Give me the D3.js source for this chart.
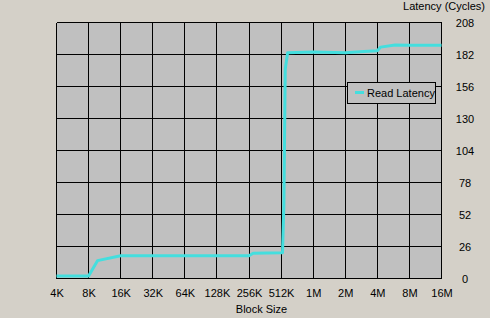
<!DOCTYPE html>
<html>
<head>
<meta charset="utf-8">
<script src="https://cdn.jsdelivr.net/npm/d3@7"></script>
<style>
  body { margin: 0; background: #d4d0c8; }
  text { font-family: "Liberation Sans", Arial, sans-serif; font-size: 11px; fill: #000; }
</style>
</head>
<body>
<div id="chart"></div>
<script>
// block sizes in KB and read latency in cycles
var blockKB = [4, 8, 9.7, 16, 32, 64, 128, 256, 280, 512, 528, 544, 560, 590, 1024, 2048, 3072, 4096, 4400, 6000, 8192, 16384];
var latency = [2, 2, 14.5, 18.5, 18.5, 18.5, 18.5, 18.5, 20.5, 21, 21, 60, 170, 183.5, 184, 183.5, 184.5, 185, 188, 189.8, 189.5, 189.5];

var xTickKB = [4, 8, 16, 32, 64, 128, 256, 512, 1024, 2048, 4096, 8192, 16384];
var xLabels = ["4K", "8K", "16K", "32K", "64K", "128K", "256K", "512K", "1M", "2M", "4M", "8M", "16M"];
var yTicks = [0, 26, 52, 78, 104, 130, 156, 182, 208];

var seriesName = "Read Latency";

createGraph();

function createGraph() {
    var W = 490, H = 318;
    var margin = {top: 22, right: 49, bottom: 40, left: 56},
        width = W - margin.left - margin.right,
        height = H - margin.top - margin.bottom;

    var x = d3.scaleLog().base(2).domain([4, 16384]).range([0.5, width + 0.5]);
    var y = d3.scaleLinear().domain([0, 208]).range([height + 0.5, 0.5]);

    var svg = d3.select("#chart").append("svg")
        .attr("width", W)
        .attr("height", H);

    var canvas = svg.append("g")
        .attr("transform", "translate(" + margin.left + "," + margin.top + ")");

    // plot background
    canvas.append("rect")
        .attr("x", 0.5).attr("y", 0.5)
        .attr("width", width).attr("height", height)
        .attr("fill", "#c0c0c0");

    // grid lines
    canvas.selectAll(".vgrid").data(xTickKB).enter().append("line")
        .attr("x1", function(d) { return x(d); })
        .attr("x2", function(d) { return x(d); })
        .attr("y1", 0.5).attr("y2", height + 0.5)
        .attr("stroke", "#000").attr("shape-rendering", "crispEdges");
    canvas.selectAll(".hgrid").data(yTicks).enter().append("line")
        .attr("y1", function(d) { return y(d); })
        .attr("y2", function(d) { return y(d); })
        .attr("x1", 0.5).attr("x2", width + 0.5)
        .attr("stroke", "#000").attr("shape-rendering", "crispEdges");

    // the series
    var pts = blockKB.map(function(d, i) { return {x: d, y: latency[i]}; });
    var valueline = d3.line()
        .x(function(d) { return x(d.x); })
        .y(function(d) { return y(d.y); });
    canvas.append("path")
        .datum(pts)
        .attr("d", valueline)
        .attr("fill", "none")
        .attr("stroke", "#44dede")
        .attr("stroke-width", 3)
        .attr("stroke-linejoin", "round");

    // x axis labels
    var xAxis = d3.axisBottom(x)
        .tickValues(xTickKB)
        .tickSize(0)
        .tickPadding(11)
        .tickFormat(function(d, i) { return xLabels[i]; });
    var gx = canvas.append("g")
        .attr("transform", "translate(0," + height + ")")
        .call(xAxis);
    gx.select(".domain").remove();
    gx.selectAll("text").attr("font-size", 11).attr("font-family", null).attr("fill", "#000");

    // y axis labels on the right
    var yAxis = d3.axisRight(y)
        .tickValues(yTicks)
        .tickSize(0)
        .tickPadding(0);
    var gy = canvas.append("g")
        .attr("transform", "translate(" + (width + 24) + ",0)")
        .call(yAxis);
    gy.select(".domain").remove();
    gy.selectAll("text").attr("text-anchor", "middle").attr("font-size", 11)
        .attr("font-family", null).attr("fill", "#000");

    canvas.append("text")
        .attr("x", width / 2 + 13)
        .attr("y", height + 35)
        .style("text-anchor", "middle")
        .text("Block Size");

    canvas.append("text")
        .attr("x", W - margin.left - 5)
        .attr("y", -12)
        .style("text-anchor", "end")
        .text("Latency (Cycles)");

    // legend
    var lg = canvas.append("g")
        .attr("transform", "translate(" + (347 - margin.left) + "," + (82 - margin.top) + ")");
    lg.append("rect")
        .attr("x", 0.5).attr("y", 0.5)
        .attr("width", 88).attr("height", 21)
        .attr("fill", "#c0c0c0")
        .attr("stroke", "#000")
        .attr("shape-rendering", "crispEdges");
    lg.append("line")
        .attr("x1", 8).attr("x2", 17)
        .attr("y1", 10.5).attr("y2", 10.5)
        .attr("stroke", "#44dede").attr("stroke-width", 3);
    lg.append("text")
        .attr("x", 20)
        .attr("y", 11)
        .attr("dy", "0.35em")
        .text(seriesName);
}
</script>
</body>
</html>
